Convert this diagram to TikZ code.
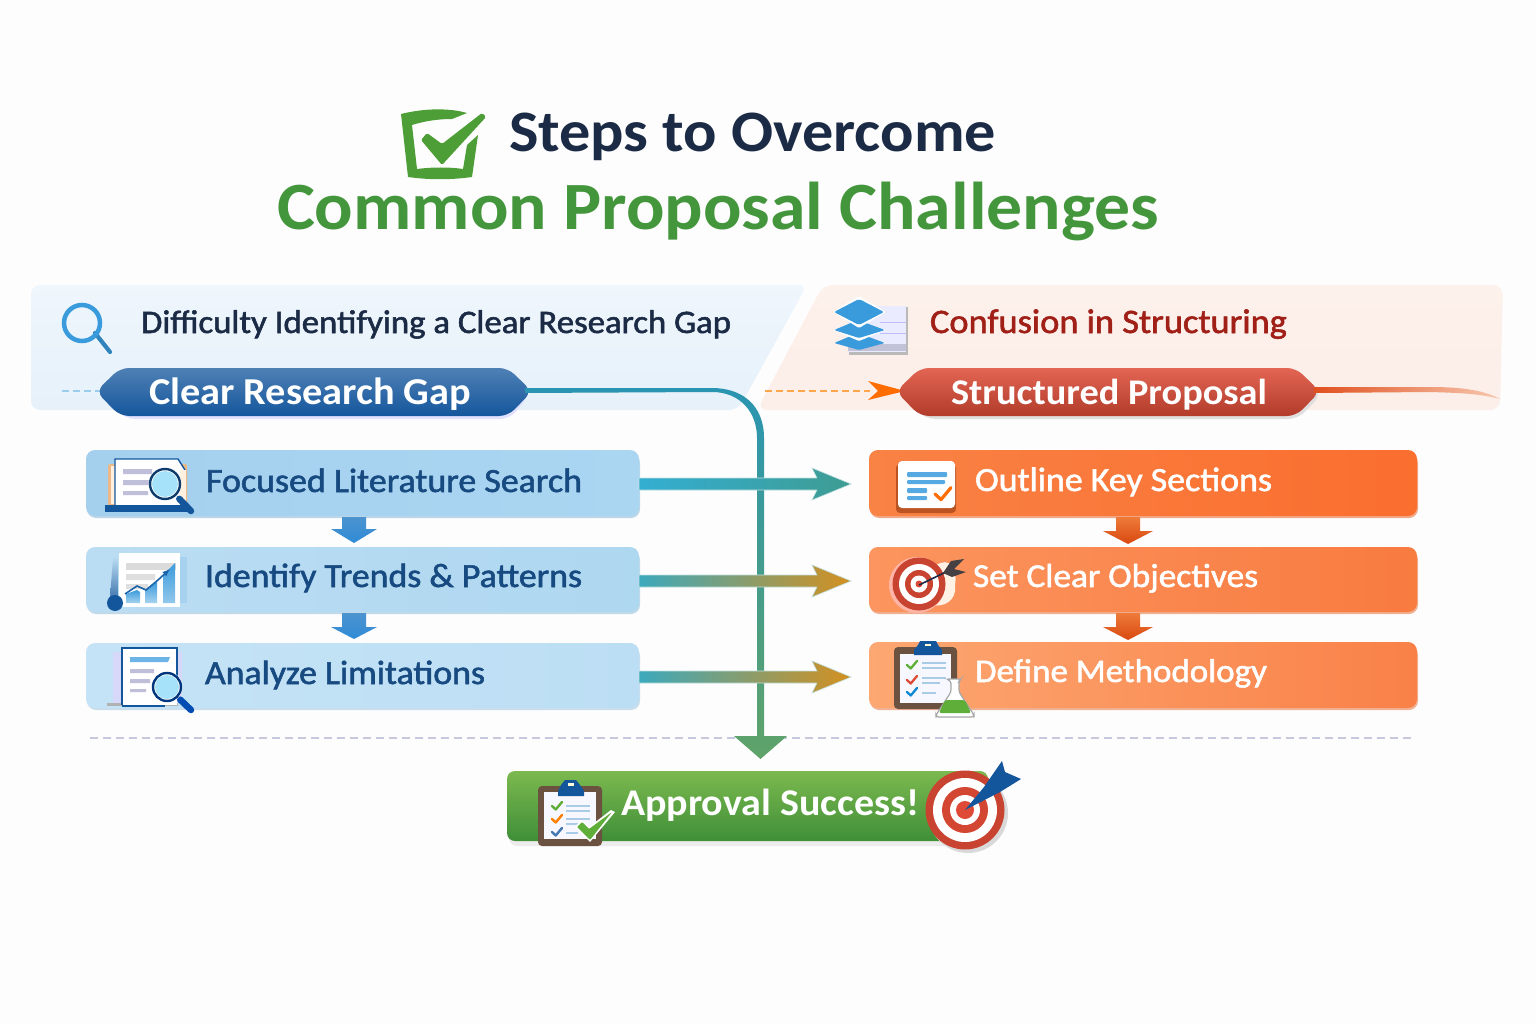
\documentclass[tikz,border=0pt]{standalone}
\usepackage{fontspec}
\usepackage{graphicx}
\usetikzlibrary{calc}
\newfontfamily\medf[FakeBold=1.6]{Carlito}
\newfontfamily\carl{Carlito}
\newcommand\tfit[2]{\resizebox{#1pt}{!}{\scalebox{1.06}[1]{#2}}}
\definecolor{ink}{HTML}{1B2B45}
\definecolor{grn}{HTML}{44963C}
\definecolor{navy}{HTML}{174A80}
\definecolor{dred}{HTML}{A01F17}
\definecolor{bgc}{HTML}{FDFDFE}
\definecolor{tred}{HTML}{DE4A35}
\definecolor{dblue}{HTML}{14569C}
\definecolor{mblue}{HTML}{3A9BDC}
\definecolor{brownc}{HTML}{6B5240}
\definecolor{linec}{HTML}{A9CBE6}
\definecolor{o1a}{HTML}{F98245}\definecolor{o1b}{HTML}{FA6E2E}
\definecolor{o2a}{HTML}{FC955F}\definecolor{o2b}{HTML}{F87B40}
\definecolor{o3a}{HTML}{FDA772}\definecolor{o3b}{HTML}{F98148}
\definecolor{lb1}{HTML}{A4D0EE}\definecolor{lb2}{HTML}{ABD6F2}
\definecolor{lb3}{HTML}{BBDDF3}\definecolor{lb4}{HTML}{AED7F0}
\definecolor{lb5}{HTML}{C5E3F6}\definecolor{lb6}{HTML}{BCDEF4}
\definecolor{a1l}{HTML}{33AED2}\definecolor{a1m}{HTML}{4EAAB5}\definecolor{a1r}{HTML}{3E9C92}
\definecolor{a2l}{HTML}{3CA9BC}\definecolor{a2m}{HTML}{6AA681}\definecolor{a2r}{HTML}{D4901F}
\definecolor{da}{HTML}{4D93CF}\definecolor{db}{HTML}{2E8BD6}
\definecolor{ra}{HTML}{EE7B3A}\definecolor{rb}{HTML}{D8480F}
\definecolor{pl1}{HTML}{EFF6FC}\definecolor{pl2}{HTML}{E6F1FA}
\definecolor{pr1}{HTML}{FDF1EC}\definecolor{pr2}{HTML}{FCEEE9}
\definecolor{vt}{HTML}{2A95B2}\definecolor{vm}{HTML}{4FA3A0}\definecolor{vb}{HTML}{5FA368}
\definecolor{gt}{HTML}{7CB94F}\definecolor{gb}{HTML}{3F8F38}
\definecolor{ckg}{HTML}{5FAE3A}
\definecolor{tl}{HTML}{E0501F}\definecolor{tm}{HTML}{EE7A3A}\definecolor{te}{HTML}{F8C8B0}
\tikzset{
  txt/.style={anchor=base west,inner sep=0pt,outer sep=0pt,font=\medf\fontsize{30}{32}\selectfont},
  btxt/.style={txt,font=\carl\bfseries\fontsize{30}{32}\selectfont,text=white},
  boxn/.style={rounded corners=9pt,inner sep=0pt,outer sep=0pt},
  chkl/.style={line width=#1,line cap=round,line join=round},
}
\newcommand\boxnode[8]{%
  \fill[#8,rounded corners=9pt] (#2+1,#3+4) rectangle (#4+1,#5+2);
  \node[boxn,left color=#6,right color=#7,minimum width=#4pt-#2pt,minimum height=#5pt-#3pt] (#1) at ({(#2+#4)/2},{(#3+#5)/2}) {};
}
\newcommand\harrow[3]{%
  \path[#3,draw=white!75!teal,line width=.6pt] ($(#1)+(0,-6)$) -- ($(#2)+(-34,-6)$) -- ($(#2)+(-39,-16)$) -- (#2) -- ($(#2)+(-39,16)$) -- ($(#2)+(-34,6)$) -- ($(#1)+(0,6)$) -- cycle;
}
\newcommand\magn[6]{%
  \draw[line width=6.5pt,line cap=round,color=#6] ({#1+(#4-#1)*.55},{#2+(#5-#2)*.55}) -- (#4,#5);
  \fill[white] (#1,#2) circle ({#3*1pt+1.5pt});
  \fill[cyan!35!white] (#1,#2) circle ({#3*1pt-2pt});
  \draw[line width=2.4pt,color=#6!70!black] (#1,#2) circle (#3 pt);
}
\newcommand\chk[5]{%
  \draw[chkl=#5,color=#4] ({#1-#3},#2) -- ({#1-#3*.25},{#2+#3*.7}) -- ({#1+#3},{#2-#3*.8});
}
\begin{document}
\begin{tikzpicture}[x=1pt,y=-1pt]
\useasboundingbox (0,0) rectangle (1536,1024);
\fill[bgc] (0,0) rectangle (1536,1024);

%% Title
\fill[grn!92!lime] (401,114) .. controls (425,108) and (450,108) .. (467,113) -- (452,119) .. controls (438,119) and (425,121) .. (412,125) -- (417,169) .. controls (432,167) and (450,167) .. (463,169) -- (467,145) -- (478,135) -- (472,177) .. controls (450,180) and (430,180) .. (408,177) -- cycle;
\fill[grn!92!lime,rounded corners=1.5pt] (421,140) -- (427,133) -- (442,144) -- (482,113) -- (486,117) -- (442,165) -- cycle;
\node[txt,text=ink,font=\carl\bfseries\fontsize{30}{32}\selectfont] (title1) at (509,152) {\tfit{487}{Steps to Overcome}};
\node[txt,text=grn,font=\carl\bfseries\fontsize{30}{32}\selectfont] (title2) at (277,229.5) {\tfit{882}{Common Proposal Challenges}};

%% Panels
\shade[top color=pl1,bottom color=pl2,rounded corners=9pt] (31,285) -- (807,285) -- (738,410) -- (31,410) -- cycle;
\shade[top color=pr1,bottom color=pr2,rounded corners=10pt] (823,285) -- (1503,285) -- (1500,410) -- (757,410) -- cycle;

%% Header icons and text
\draw[line width=4.2pt,line cap=round,color=mblue!85!black] (95,333) -- (110,352);
\draw[line width=4.5pt,color=mblue] (82,323) circle (18pt);
\node[txt,text=ink] (head1) at (141,333) {\tfit{590}{Difficulty Identifying a Clear Research Gap}};

\fill[gray!55] (849,307) rectangle (908,355);
\fill[blue!8!white] (848,306) rectangle (906,352);
\fill[blue!22!gray!40!white] (848,344) rectangle (906,351);
\draw[blue!25!white,line width=.7pt] (880,322) -- (906,322) (880,333) -- (906,333);
\fill[mblue,rounded corners=1.5pt] (834,343) -- (858,333) -- (885,343) -- (859,350) -- cycle;
\fill[white,rounded corners=1pt] (833,330) -- (859,341) -- (886,330) -- (859,320) -- cycle;
\fill[mblue,rounded corners=1.5pt] (834,330) -- (858,320) -- (885,330) -- (859,338) -- cycle;
\fill[white,rounded corners=1pt] (833,312) -- (859,328) -- (886,312) -- (859,296) -- cycle;
\fill[mblue,rounded corners=2pt] (834,312) -- (859,299) -- (884,312) -- (859,325) -- cycle;
\node[txt,text=dred] (head2) at (930,333) {\tfit{357}{Confusion in Structuring}};

%% Pills
\draw[mblue!50!white,line width=1.1pt,dash pattern=on 7pt off 4pt] (62,391) -- (103,391);
\fill[blue!12!white,rounded corners=10pt] (103,394) -- (127,371) -- (506,371) -- (530,394) -- (510,419) -- (125,419) -- cycle;
\shade[top color=dblue!75!white,bottom color=dblue,rounded corners=9pt] (96,391.5) -- (120,368) -- (508,368) -- (532,391.5) -- (508,416) -- (120,416) -- cycle;
\node[btxt] (gapL) at (149,404) {\tfit{322}{Clear Research Gap}};
\coordinate (gapE) at (525,391);

\draw[orange!70!white,line width=1.1pt,dash pattern=on 7pt off 4pt] (765,391) -- (870,391);
\fill[orange!85!red] (868,381) -- (905,391) -- (868,400) -- (878,391) -- cycle;
\fill[gray!25,rounded corners=10pt] (902,395) -- (925,371) -- (1296,371) -- (1322,394) -- (1298,419) -- (925,419) -- cycle;
\shade[top color=tred!85!white,bottom color=tred!80!black,rounded corners=9pt] (896,391.5) -- (920,368) -- (1296,368) -- (1320,391.5) -- (1296,416) -- (920,416) -- cycle;
\node[btxt] (propR) at (951,404) {\tfit{316}{Structured Proposal}};
\coordinate (propE) at (1314,390);
\coordinate (propEnd) at (1500,399);
\shade[left color=tl,middle color=tm,right color=te] ($(propE)+(0,-3)$) -- (1430,387) .. controls (1465,387) and (1485,391) .. (propEnd) .. controls (1480,394) and (1465,393) .. (1430,392) -- ($(propE)+(0,3)$) -- cycle;

%% Dashed separator
\coordinate (sepL) at (90,738);
\coordinate (sepR) at (1415,738);
\draw[blue!25!gray!35!white,line width=1.6pt,dash pattern=on 8pt off 5pt] (sepL) -- (sepR);

%% Main vertical connector
\coordinate (vTip) at (760.5,759);
\shade[top color=vt,middle color=vm,bottom color=vb] ($(gapE)+(0,-3)$) -- (712,388) .. controls (742,388) and (764,405) .. (764,438) -- (764,736) -- (787,736) -- (vTip) -- (734,736) -- (757,736) -- (757,438) .. controls (757,412) and (740,392) .. (712,392) -- ($(gapE)+(0,2)$) -- cycle;

%% Boxes
\boxnode{L1}{86}{450}{639}{516}{lb1}{lb2}{lb1!85!gray!70!white}
\boxnode{L2}{86}{547}{639}{612}{lb3}{lb4}{lb4!85!gray!70!white}
\boxnode{L3}{86}{643}{639}{708}{lb5}{lb6}{lb6!85!gray!70!white}
\boxnode{R1}{869}{450}{1417}{516}{o1a}{o1b}{o1b!85!gray!60!white}
\boxnode{R2}{869}{547}{1417}{612}{o2a}{o2b}{o2b!85!gray!60!white}
\boxnode{R3}{869}{642}{1417}{708}{o3a}{o3b}{o3b!85!gray!60!white}

%% Cross arrows
\coordinate (t1) at (851,484);
\coordinate (t2) at (851,581);
\coordinate (t3) at (851,677);
\coordinate (s1) at (L1.east |- t1);
\coordinate (s2) at (L2.east |- t2);
\coordinate (s3) at (L3.east |- t3);
\harrow{s1}{t1}{left color=a1l,middle color=a1m,right color=a1r}
\harrow{s2}{t2}{left color=a2l,middle color=a2m,right color=a2r}
\harrow{s3}{t3}{left color=a2l,middle color=a2m,right color=a2r}

%% Down arrows
\coordinate (l12) at (354,543); \coordinate (l23) at (354,639);
\coordinate (r12) at (1128,544); \coordinate (r23) at (1128,640);
\shade[top color=da,bottom color=db] (342,517) -- (342,529) -- (331,529) -- (l12) -- (377,529) -- (366,529) -- (366,517) -- cycle;
\shade[top color=da,bottom color=db] (342,613) -- (342,627) -- (331,627) -- (l23) -- (377,627) -- (366,627) -- (366,613) -- cycle;
\shade[top color=ra,bottom color=rb] (1116,517) -- (1116,531) -- (1103,531) -- (r12) -- (1153,531) -- (1140,531) -- (1140,517) -- cycle;
\shade[top color=ra,bottom color=rb] (1116,613) -- (1116,627) -- (1103,627) -- (r23) -- (1153,627) -- (1140,627) -- (1140,613) -- cycle;

%% Left texts
\node[txt,text=navy] (tL1) at (206,492) {\tfit{376}{Focused Literature Search}};
\node[txt,text=navy] (tL2) at (205,587) {\tfit{377}{Identify Trends \& Patterns}};
\node[txt,text=navy] (tL3) at (205,684) {\tfit{280}{Analyze Limitations}};
%% Right texts
\node[txt,text=white] (tR1) at (975,491) {\tfit{297}{Outline Key Sections}};
\node[txt,text=white] (tR2) at (973,587) {\tfit{285}{Set Clear Objectives}};
\node[txt,text=white] (tR3) at (975,682) {\tfit{292}{Define Methodology}};

%% L1 icon
\fill[orange!45!brown!55!white,rounded corners=1.5pt] (108,464) rectangle (187,506);
\fill[orange!12!white] (111,466) rectangle (116,504);
\fill[white] (115,459) -- (178,459) -- (185,470) -- (185,505) -- (115,505) -- cycle;
\draw[dblue,line width=1.4pt] (115,505) -- (115,459) -- (178,459) -- (185,470);
\fill[orange!12!white] (180,470) rectangle (186,505);
\fill[dblue] (105,505) rectangle (190,512);
\fill[blue!25!gray!40!white] (123,469) rectangle (152,474) (123,480) rectangle (150,485) (123,491) rectangle (148,495);
\magn{165}{484}{15}{191}{511}{dblue}
%% L2 icon
\fill[mblue!45!white] (180,557) rectangle (187,603);
\shade[top color=mblue!35!white,bottom color=dblue!80!white] (110,598) -- (113,557) -- (118,557) -- (118,598) -- cycle;
\fill[white] (119,553) rectangle (180,607);
\fill[gray!28] (126,563) rectangle (176,570);
\fill[gray!25] (126,574) rectangle (155,580) (126,584) rectangle (148,589);
\shade[top color=mblue,bottom color=mblue!45!white] (126,594) -- (137,590) -- (140,592) -- (140,603) -- (126,603) -- cycle;
\shade[top color=mblue,bottom color=mblue!45!white] (145,590) -- (157,582) -- (157,603) -- (145,603) -- cycle;
\shade[top color=mblue,bottom color=mblue!55!white] (163,575) -- (175,563) -- (175,603) -- (163,603) -- cycle;
\draw[dblue!80!mblue,line width=1.6pt,-latex] (125,594) -- (137,586) -- (146,590) -- (158,580) -- (170,569);
\fill[dblue] (115,603) circle (8pt);
%% L3 icon
\fill[gray!25!blue!18!white] (113,652) rectangle (182,703);
\fill[gray!60] (107,703) rectangle (178,706);
\fill[white] (122,648) rectangle (177,705);
\draw[dblue,line width=1.3pt] (122,705) -- (122,648) -- (177,648) -- (177,680);
\fill[mblue!75!white] (130,657) -- (170,657) -- (168,662) -- (130,662) -- cycle;
\fill[blue!25!gray!40!white] (130,669) rectangle (154,673) (130,679) rectangle (150,683) (130,689) rectangle (146,692);
\draw[dblue,line width=1.3pt] (122,706) -- (165,706);
\magn{167}{687}{14}{191}{710}{teal!60!blue}

%% R1 icon
\fill[o1b!75!black,rounded corners=4pt] (896,464) rectangle (956,513);
\fill[white,rounded corners=4pt] (898,461) rectangle (955,508);
\fill[mblue!85!white,rounded corners=1pt] (907,472) rectangle (947,477) (907,480) rectangle (945,484) (907,488) rectangle (927,493) (907,496) rectangle (927,500);
\chk{943}{494}{8}{orange!85!red}{3.2pt}
%% R2 icon
\fill[orange!10!white] (935,566) .. controls (950,555) and (958,570) .. (955,585) .. controls (957,600) and (945,608) .. (930,605) -- cycle;
\fill[orange!35!red!35!white] (917,585) circle (28pt);
\fill[tred!90!black] (919,584) circle (26.5pt);
\fill[white] (919,584) circle (20pt);
\fill[tred!90!black] (919,584) circle (14pt);
\fill[white] (919,584) circle (8.5pt);
\fill[tred] (919,584) circle (3.5pt);
\draw[ink,line width=1.6pt] (919,585) -- (948,571);
\fill[ink!75!brown] (943,573) -- (951,561) -- (964,559) -- (954,569) -- (966,572) -- (952,577) -- cycle;
%% R3 icon
\fill[brownc,rounded corners=4pt] (894,647) rectangle (957,709);
\fill[blue!3!white] (900,654) rectangle (951,703);
\fill[dblue] (914,650) -- (918,645) -- (920,641) -- (936,641) -- (938,645) -- (942,650) -- (942,655) -- (914,655) -- cycle;
\fill[white!85!yellow] (925,644) rectangle (931,646);
\draw[linec,line width=1.2pt] (922,663) -- (946,663) (922,668) -- (946,668) (922,678) -- (946,678) (922,683) -- (940,683) (922,693) -- (936,693);
\chk{912}{665}{5}{ckg}{2.3pt}
\chk{912}{680}{5}{tred}{2.3pt}
\chk{912}{692}{5}{cyan!70!blue}{2.3pt}
\fill[white,draw=gray!70,line width=1.2pt,rounded corners=2.5pt] (946,679) -- (961,679) -- (959,681) -- (959,692) -- (974,715) -- (974,717) -- (936,717) -- (936,715) -- (951,692) -- (951,681) -- cycle;
\fill[ckg,rounded corners=2pt] (945,700) -- (965,700) -- (971,713) -- (939,713) -- cycle;

%% Approval pill
\fill[gray!15,rounded corners=8pt] (509,775) rectangle (990,846);
\shade[top color=gt,bottom color=gb,rounded corners=8pt] (507,771) rectangle (988,841);
\node[btxt] (tA) at (621,815) {\tfit{298}{Approval Success!}};
% Clipboard
\fill[brownc,rounded corners=4pt] (538,786) rectangle (602,846);
\fill[blue!3!white] (544,792) rectangle (596,839);
\fill[dblue] (558,791) -- (561,785) -- (565,780) -- (576,780) -- (580,785) -- (584,791) -- (584,796) -- (558,796) -- cycle;
\fill[white!85!yellow] (568,783) rectangle (574,786);
\draw[linec,line width=1.2pt] (566,806) -- (590,806) (566,811) -- (590,811) (566,819) -- (590,819) (566,824) -- (585,824) (566,833) -- (578,833);
\chk{557}{806}{5}{ckg}{2.4pt}
\chk{557}{819}{5}{orange}{2.4pt}
\chk{557}{832}{5}{dblue!80!white}{2.4pt}
\fill[white] (575,827) -- (581,820) -- (589,827) -- (611,810) -- (615,812) -- (590,842) -- cycle;
\fill[ckg,rounded corners=1pt] (577,827) -- (582,822) -- (589,829) -- (612,812) -- (590,840) -- cycle;
% Target
\fill[gray!30] (968,813) circle (40pt);
\fill[tred!90!black] (965,810) circle (39.5pt);
\fill[white] (965,810) circle (32pt);
\fill[tred!95!black] (965,810) circle (23pt);
\fill[white] (965,810) circle (15pt);
\fill[tred] (965,810) circle (9pt);
\fill[dblue] (965,810) -- (984,787) -- (1002,761) -- (1005,772) -- (1021,779) -- (1000,792) -- cycle;
\end{tikzpicture}
\end{document}
